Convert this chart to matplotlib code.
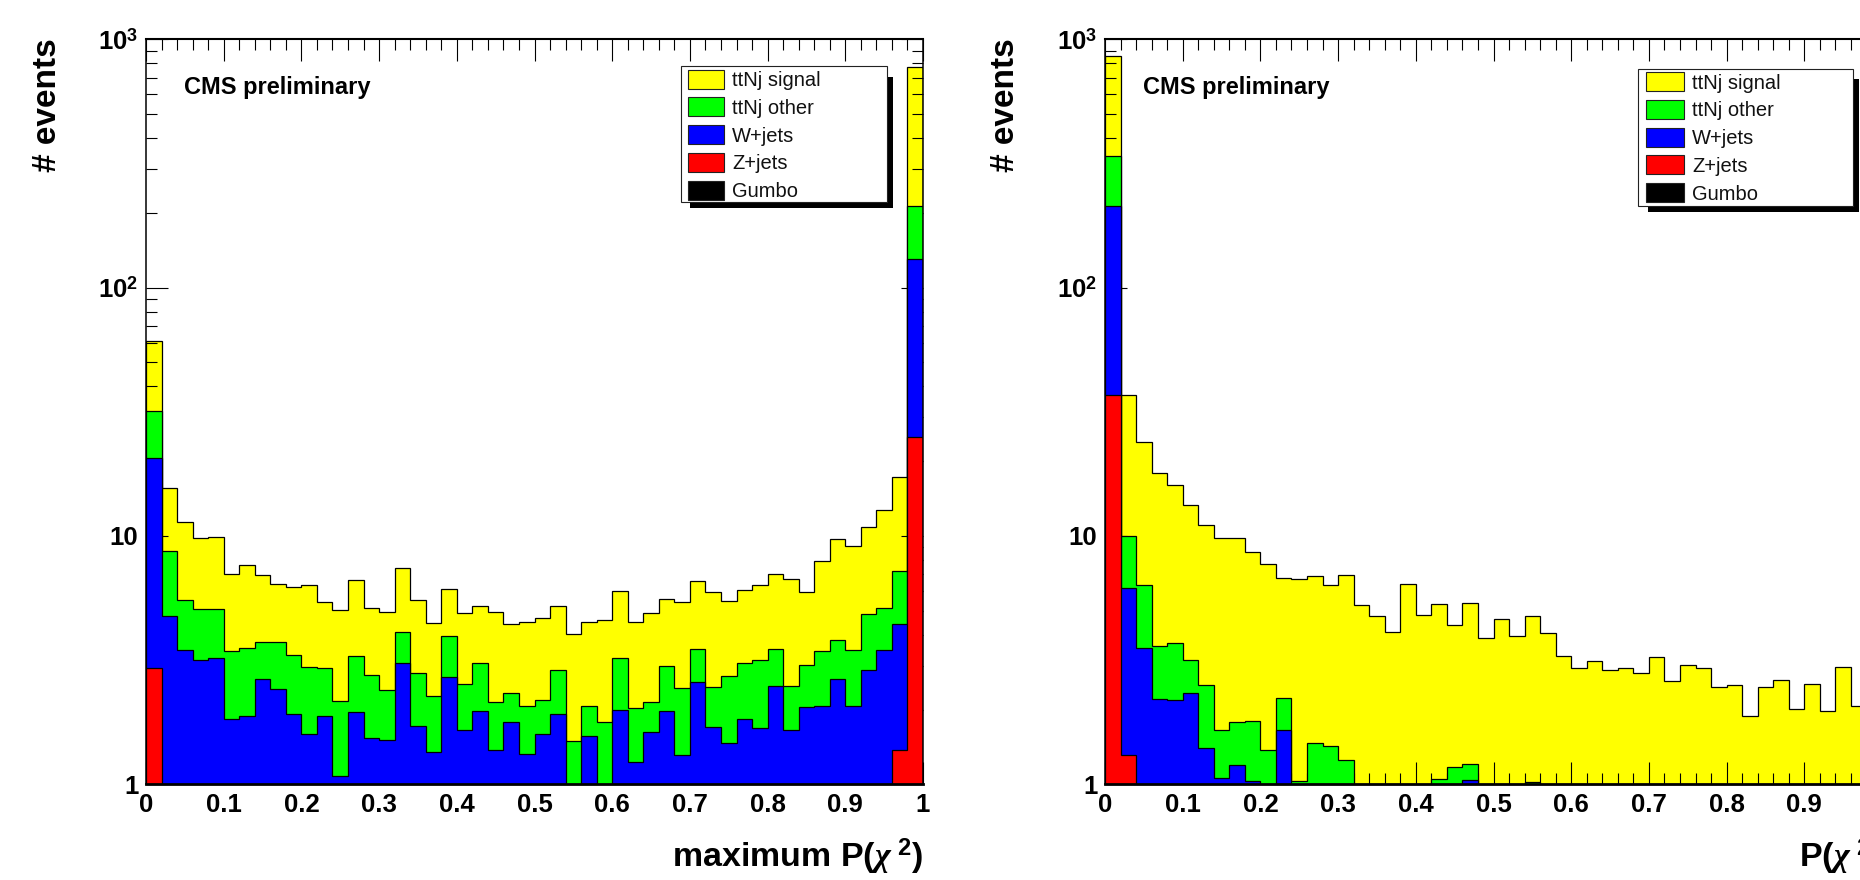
import numpy as np
import matplotlib
matplotlib.use('Agg')
import matplotlib.pyplot as plt
from matplotlib.patches import Rectangle
from matplotlib.ticker import (FixedLocator, FixedFormatter, MultipleLocator,
                               LogLocator, NullFormatter, FuncFormatter)

plt.rcParams['font.family'] = ['Liberation Sans', 'DejaVu Sans']
plt.rcParams['font.weight'] = 'bold'
plt.rcParams['mathtext.fontset'] = 'custom'
plt.rcParams['mathtext.rm'] = 'Liberation Sans:bold'
plt.rcParams['mathtext.bf'] = 'Liberation Sans:bold'
plt.rcParams['mathtext.it'] = 'Liberation Serif:italic'

# ---------------- data ----------------
bin_edges = np.linspace(0.0, 1.0, 51)
labels = ['ttNj signal', 'ttNj other', 'W+jets', 'Z+jets', 'Gumbo']
colors = ['#ffff00', '#00ff00', '#0000ff', '#ff0000', '#000000']
x_titles = [r'maximum P($\chi^{\ 2}$)', r'P($\chi^{\ 2}$)']
y_title = '# events'
cms_text = 'CMS preliminary'
y_tick_values = [1, 10, 100, 1000]
y_tick_labels = ['1', '10', r'$10^{2}$', r'$10^{3}$']

# left panel: maximum P(chi2)
signal_L = [29.0, 6.93, 5.90, 4.75, 4.88, 3.59, 4.10, 3.25, 2.66, 2.89,
            3.36, 2.47, 2.87, 3.36, 2.39, 2.55, 3.33, 2.71, 2.21, 2.18,
            2.36, 2.15, 2.81, 2.10, 2.43, 2.50, 2.34, 2.54, 2.44, 2.78,
            2.75, 2.50, 2.75, 2.56, 2.97, 3.06, 3.48, 2.73, 2.97, 3.16,
            3.53, 4.24, 2.92, 4.52, 5.94, 5.63, 6.03, 7.56, 9.98, 563.0]
other_L = [11.4, 3.90, 2.02, 1.89, 1.82, 1.60, 1.65, 1.08, 1.31, 1.40,
           1.37, 1.05, 1.09, 1.33, 1.21, 0.89, 1.04, 1.09, 0.91, 1.25,
           0.89, 1.10, 0.77, 0.54, 0.75, 0.59, 0.97, 0.64, 0.50, 0.89,
           1.23, 0.79, 0.52, 1.01, 1.13, 0.92, 0.76, 1.26, 1.24, 1.48,
           1.01, 0.84, 0.97, 1.37, 1.15, 1.42, 1.98, 1.67, 2.78, 82.0]
wjets_L = [17.66, 4.77, 3.48, 3.18, 3.24, 1.84, 1.89, 2.65, 2.43, 1.92,
           1.59, 1.89, 1.08, 1.95, 1.54, 1.51, 3.08, 1.72, 1.35, 2.70,
           1.65, 1.98, 1.38, 1.79, 1.32, 1.59, 1.92, 0.85, 1.56, 0.90,
           2.00, 1.23, 1.63, 1.98, 1.31, 2.58, 1.70, 1.47, 1.84, 1.68,
           2.49, 1.65, 2.05, 2.06, 2.66, 2.06, 2.89, 3.47, 3.06, 106.0]
zjets_L = [2.94] + [0.0] * 47 + [1.38, 25.0]
gumbo_L = [0.0] * 50

# right panel: P(chi2)
signal_R = [517.0, 27.1, 17.46, 14.3, 12.41, 10.12, 8.58, 8.20, 8.06, 6.85,
            6.31, 4.53, 5.65, 5.46, 4.91, 5.73, 5.26, 4.77, 4.10, 6.40,
            4.80, 4.25, 3.19, 4.14, 3.90, 4.61, 3.94, 3.73, 4.07, 3.28,
            2.93, 3.13, 2.89, 2.93, 2.81, 3.25, 2.61, 3.01, 2.93, 2.46,
            2.50, 1.89, 2.46, 2.64, 2.01, 2.53, 1.98, 2.96, 2.06, 2.40]
other_R = [127.0, 3.82, 2.80, 1.39, 1.51, 0.85, 1.12, 0.59, 0.59, 0.77,
           0.78, 0.57, 1.03, 1.46, 1.43, 1.25, 0.0, 0.0, 0.0, 0.0,
           0.0, 1.05, 1.17, 0.17, 0.0, 0.0, 0.0, 1.02, 0.0, 0.0,
           0.0, 0.0, 0.0, 0.0, 0.0, 0.0, 0.0, 0.0, 0.0, 0.0,
           0.0, 0.0, 0.0, 0.0, 0.0, 0.0, 0.0, 0.0, 0.0, 0.0]
wjets_R = [175.9, 4.87, 3.54, 2.21, 2.18, 2.33, 1.40, 1.06, 1.20, 1.03,
           0.60, 1.65, 0.0, 0.0, 0.0, 0.0, 0.0, 0.0, 0.0, 0.0,
           0.0, 0.0, 0.0, 1.04, 0.0, 0.0, 0.0, 0.0, 0.0, 0.0,
           0.0, 0.0, 0.0, 0.0, 0.0, 0.0, 0.0, 0.0, 0.0, 0.0,
           0.0, 0.0, 0.0, 0.0, 0.0, 0.0, 0.0, 0.0, 0.0, 0.0]
zjets_R = [37.1, 1.31] + [0.0] * 48
gumbo_R = [0.0] * 50

W, H = 1860, 880
fig = plt.figure(figsize=(W / 100, H / 100), dpi=100)


def fx(px):
    return px / W


def fy(py):
    return 1 - py / H


def rect(x0, y0, x1, y1, **kw):
    return Rectangle((fx(x0), fy(y1)), (x1 - x0) / W, (y1 - y0) / H,
                     transform=fig.transFigure, **kw)


def draw_panel(ax, comps, show_last_xlabel=True):
    # comps ordered bottom -> top of the stack: gumbo, z, w, other, signal
    cum = np.cumsum(np.vstack(comps), axis=0)
    floor = 1e-2
    stack_colors = colors[::-1]  # gumbo, z, w, other, signal
    zorders = [2.4, 2.3, 2.2, 2.1, 1.0]
    for i in range(len(comps) - 1, -1, -1):
        vals = np.where(cum[i] > 0, cum[i], floor)
        ax.stairs(vals, bin_edges, baseline=floor, fill=True,
                  facecolor=stack_colors[i], edgecolor='black',
                  linewidth=0.9, zorder=zorders[i])
    ax.set_yscale('log')
    ax.set_xlim(0, 1)
    ax.set_ylim(1, 1000)
    ax.set_axisbelow('line')
    ax.xaxis.set_major_locator(MultipleLocator(0.1))
    ax.xaxis.set_minor_locator(MultipleLocator(0.02))

    def xfmt(v, p):
        if not show_last_xlabel and v > 0.95:
            return ''
        return '%g' % round(v, 2)
    ax.xaxis.set_major_formatter(FuncFormatter(xfmt))
    ax.yaxis.set_major_locator(FixedLocator(y_tick_values))
    ax.yaxis.set_major_formatter(FixedFormatter(y_tick_labels))
    ax.yaxis.set_minor_locator(LogLocator(base=10, subs=np.arange(2, 10)))
    ax.yaxis.set_minor_formatter(NullFormatter())
    ax.tick_params(which='both', direction='in', top=True, right=True,
                   width=0.8, color='black')
    ax.tick_params(which='major', length=15.8, labelsize=18.5)
    ax.tick_params(which='minor', length=7.9)
    ax.tick_params(axis='x', which='major', pad=6)
    ax.tick_params(axis='y', which='major', pad=5.5)
    for side, lw in [('top', 1.5), ('bottom', 2.0), ('left', 1.1), ('right', 1.1)]:
        ax.spines[side].set_linewidth(lw)


def draw_legend(box, shadow, row0, step, patch_x, patch_w, text_x):
    fig.patches.append(rect(*shadow, facecolor='black', edgecolor='none', zorder=10))
    fig.patches.append(rect(*box, facecolor='white', edgecolor='#222222',
                            linewidth=0.8, zorder=11))
    for k, (lab, col) in enumerate(zip(labels, colors)):
        yc = row0 + k * step
        fig.patches.append(rect(patch_x, yc - 9.5, patch_x + patch_w, yc + 9.5,
                                facecolor=col, edgecolor='#222222',
                                linewidth=0.8, zorder=12))
        fig.text(fx(text_x), fy(yc + 7), lab, fontsize=14.5, fontweight='normal',
                 va='baseline', ha='left', color='#111111', zorder=13)


axL = fig.add_axes([fx(146), fy(784.3), 777 / W, 745 / H])
axR = fig.add_axes([fx(1105), fy(784.3), 777 / W, 745 / H])

draw_panel(axL, [gumbo_L, zjets_L, wjets_L, other_L, signal_L])
draw_panel(axR, [gumbo_R, zjets_R, wjets_R, other_R, signal_R], show_last_xlabel=False)

# axis titles
fig.text(fx(923), fy(867), x_titles[0], fontsize=24.5, ha='right', va='baseline')
fig.text(fx(1882), fy(867), x_titles[1], fontsize=24.5, ha='right', va='baseline')
fig.text(fx(48), fy(38), y_title, fontsize=24, rotation=90, ha='center', va='top')
fig.text(fx(1005), fy(38), y_title, fontsize=24, rotation=90, ha='center', va='top')

# CMS preliminary
fig.text(fx(184), fy(94), cms_text, fontsize=17, ha='left', va='baseline')
fig.text(fx(1143), fy(94), cms_text, fontsize=17, ha='left', va='baseline')

# legends
draw_legend((681, 66, 887, 202), (690, 77, 893, 208), 79.3, 27.7, 688, 36, 732)
draw_legend((1638, 69, 1853, 206), (1648, 79, 1859, 212), 81.7, 27.7, 1646, 38, 1692)

fig.savefig('out.png', dpi=100)
